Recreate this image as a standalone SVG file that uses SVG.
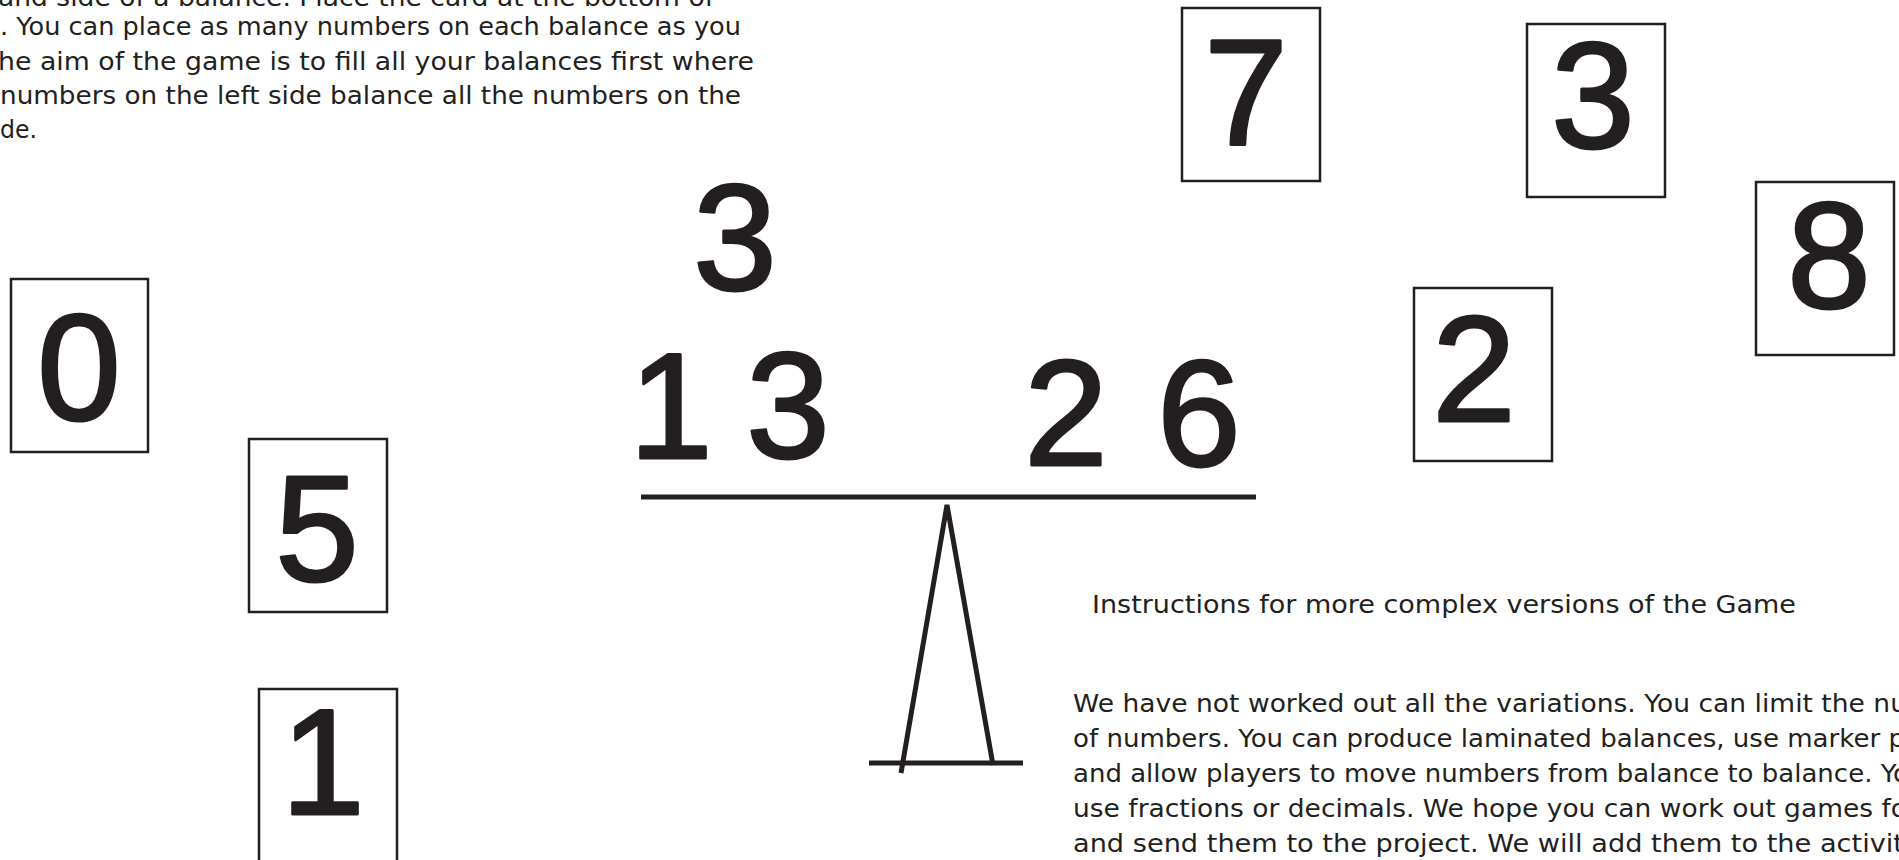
<svg xmlns="http://www.w3.org/2000/svg" width="1899" height="860" viewBox="0 0 1899 860">
<style>
  .bg { fill: #ffffff; }
  .card { fill: #ffffff; stroke: #231f20; stroke-width: 2.5; }
  .digit { font-family: "Liberation Sans", Arial, sans-serif; font-size: 150px; fill: #231f20; stroke: #231f20; stroke-width: 3; stroke-linejoin: round; text-anchor: middle; }
  .body { font-family: "DejaVu Sans", "Liberation Sans", sans-serif; font-size: 25px; fill: #231f20; }
  .bar { stroke: #231f20; stroke-width: 5; fill: none; stroke-linecap: butt; }
</style>
<rect class="bg" x="0" y="0" width="1899" height="860"/>

<g id="intro-text">
  <text class="body" x="-2" y="6" textLength="716" lengthAdjust="spacingAndGlyphs">and side of a balance. Place the card at the bottom of</text>
  <text class="body" x="0" y="35" textLength="741" lengthAdjust="spacingAndGlyphs">. You can place as many numbers on each balance as you</text>
  <text class="body" x="-2" y="70" textLength="756" lengthAdjust="spacingAndGlyphs">he aim of the game is to fill all your balances first where</text>
  <text class="body" x="0" y="104" textLength="741" lengthAdjust="spacingAndGlyphs">numbers on the left side balance all the numbers on the</text>
  <text class="body" x="0" y="138" textLength="37" lengthAdjust="spacingAndGlyphs">de.</text>
</g>

<g id="card-0">
  <rect class="card" x="11" y="279" width="137" height="173"/>
  <text class="digit" x="79" y="420">0</text>
</g>
<g id="card-5">
  <rect class="card" x="249" y="439" width="138" height="173"/>
  <text class="digit" x="317" y="581">5</text>
</g>
<g id="card-1">
  <rect class="card" x="259" y="689" width="138" height="173"/>
  <text class="digit" x="323" y="814">1</text>
</g>
<g id="card-7">
  <rect class="card" x="1182" y="8" width="138" height="173"/>
  <text class="digit" x="1246" y="144">7</text>
</g>
<g id="card-3">
  <rect class="card" x="1527" y="24" width="138" height="173"/>
  <text class="digit" x="1593" y="148">3</text>
</g>
<g id="card-2">
  <rect class="card" x="1414" y="288" width="138" height="173"/>
  <text class="digit" x="1474" y="421">2</text>
</g>
<g id="card-8">
  <rect class="card" x="1756" y="182" width="138" height="173"/>
  <text class="digit" x="1829" y="308">8</text>
</g>

<g id="balance">
  <text class="digit" x="735" y="290">3</text>
  <text class="digit" x="671" y="458">1</text>
  <text class="digit" x="788" y="458">3</text>
  <text class="digit" x="1066" y="465">2</text>
  <text class="digit" x="1199" y="466">6</text>
  <line class="bar" x1="641" y1="497" x2="1256" y2="497"/>
  <polyline class="bar" points="901,773 947,505 993,765"/>
  <line class="bar" x1="869" y1="763" x2="1023" y2="763"/>
</g>

<g id="connectors"></g>

<g id="complex-instructions">
  <text class="body" x="1092" y="613" textLength="704" lengthAdjust="spacingAndGlyphs">Instructions for more complex versions of the Game</text>
  <text class="body" x="1073" y="712" textLength="834" lengthAdjust="spacingAndGlyphs">We have not worked out all the variations. You can limit the nu</text>
  <text class="body" x="1073" y="747" textLength="832" lengthAdjust="spacingAndGlyphs">of numbers. You can produce laminated balances, use marker p</text>
  <text class="body" x="1073" y="782" textLength="836" lengthAdjust="spacingAndGlyphs">and allow players to move numbers from balance to balance. Yo</text>
  <text class="body" x="1073" y="817" textLength="834" lengthAdjust="spacingAndGlyphs">use fractions or decimals. We hope you can work out games fo</text>
  <text class="body" x="1073" y="852" textLength="831" lengthAdjust="spacingAndGlyphs">and send them to the project. We will add them to the activit</text>
</g>
</svg>
